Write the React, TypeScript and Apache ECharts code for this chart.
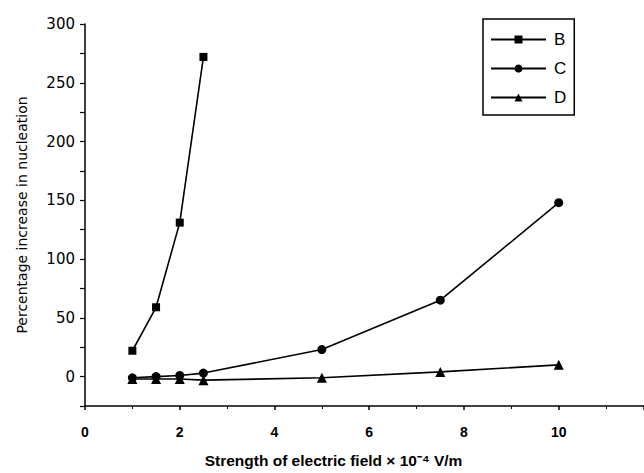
import React, { useEffect, useRef } from "react";
import * as echarts from "echarts";

const xB = [1, 1.5, 2, 2.5];
const yB = [22, 59, 131, 272];
const xC = [1, 1.5, 2, 2.5, 5, 7.5, 10];
const yC = [-1, 0, 1, 3, 23, 65, 148];
const xD = [1, 1.5, 2, 2.5, 5, 7.5, 10];
const yD = [-2, -2, -2, -3, -1, 4, 10];
const seriesNames = ["B", "C", "D"];

const pairs = (xs: number[], ys: number[]) => xs.map((x, i) => [x, ys[i]]);

export default function App() {
  const ref = useRef<HTMLDivElement>(null);
  useEffect(() => {
    const chart = echarts.init(ref.current!, null, { renderer: "svg" });
    const lineStyle = { color: "#000", width: 1.6 };
    chart.setOption({
      animation: false,
      backgroundColor: "#fff",
      textStyle: { fontFamily: "Liberation Sans, Arial, sans-serif", color: "#000" },
      grid: { left: 85, right: 0, top: 24, bottom: 67, outerBoundsMode: "none", containLabel: false },
      legend: {
        orient: "vertical",
        left: 483,
        top: 19,
        padding: [12, 8, 9, 7],
        itemGap: 12,
        itemWidth: 55,
        itemHeight: 10,
        borderColor: "#000",
        borderWidth: 1.5,
        textStyle: { fontSize: 17, color: "#000", padding: [0, 0, 0, 3] },
        data: seriesNames,
      },
      xAxis: {
        type: "value",
        min: 0,
        max: 11.8,
        interval: 2,
        axisLine: { onZero: false, lineStyle: { color: "#000", width: 1.5 } },
        axisTick: { length: 4, lineStyle: { color: "#000", width: 1.5 } },
        minorTick: { show: true, splitNumber: 2, length: 3, lineStyle: { color: "#000" } },
        splitLine: { show: false },
        axisLabel: { fontSize: 14, fontWeight: "bold", color: "#000", margin: 19, showMaxLabel: false },
        name: "Strength of electric field × 10⁻⁴ V/m",
        nameLocation: "middle",
        nameGap: 46,
        nameTextStyle: { fontSize: 15.5, fontWeight: "bold", color: "#000", padding: [0, 62, 0, 0] },
      },
      yAxis: {
        type: "value",
        min: -25,
        max: 300,
        interval: 25,
        axisLine: { show: true, lineStyle: { color: "#000", width: 1.5 } },
        axisTick: { length: 5, lineStyle: { color: "#000", width: 1.2 } },
        splitLine: { show: false },
        axisLabel: {
          fontSize: 15,
          fontFamily: "DejaVu Sans",
          color: "#000",
          margin: 10,
          formatter: (v: number) => (v < 0 || v % 50 !== 0 ? "" : String(v)),
        },
        name: "Percentage increase in nucleation",
        nameLocation: "middle",
        nameGap: 56,
        nameTextStyle: { fontSize: 14, fontFamily: "DejaVu Sans", color: "#000" },
      },
      series: [
        {
          name: "B",
          type: "line",
          data: pairs(xB, yB),
          symbol: "rect",
          symbolSize: 8,
          itemStyle: { color: "#000" },
          lineStyle,
        },
        {
          name: "C",
          type: "line",
          data: pairs(xC, yC),
          symbol: "circle",
          symbolSize: 9,
          itemStyle: { color: "#000" },
          lineStyle,
        },
        {
          name: "D",
          type: "line",
          data: pairs(xD, yD),
          symbol: "triangle",
          symbolSize: 10,
          itemStyle: { color: "#000" },
          lineStyle,
        },
      ],
    });
    return () => chart.dispose();
  }, []);
  return (
    <div
      ref={ref}
      style={{ position: "fixed", left: 0, top: 0, width: 644, height: 473 }}
    />
  );
}
